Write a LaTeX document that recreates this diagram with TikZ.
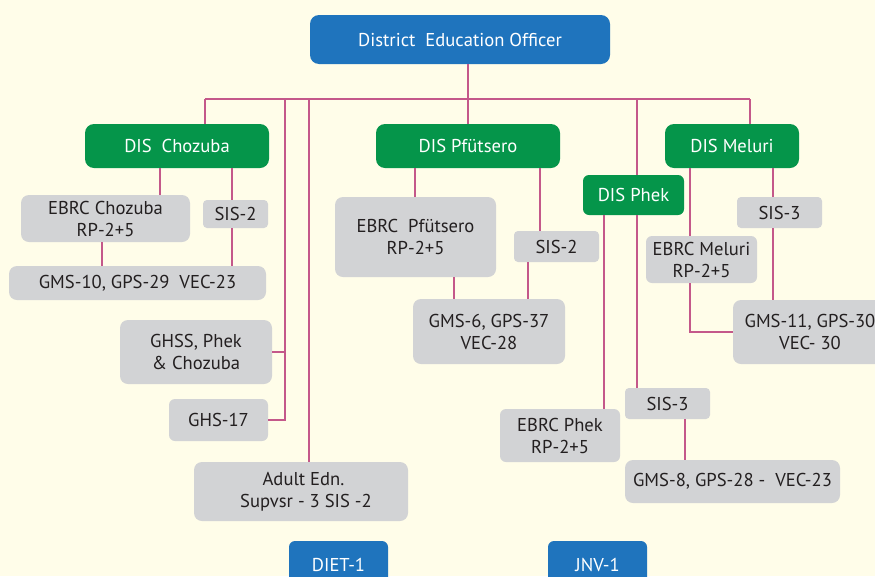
\documentclass[tikz,border=0pt]{standalone}
\usepackage{fontspec}
\setmainfont{PT Sans}
\definecolor{paper}{HTML}{FFFDE9}
\definecolor{deoblue}{HTML}{1F74BD}
\definecolor{disgreen}{HTML}{05954A}
\definecolor{unitgrey}{HTML}{D2D3D5}
\definecolor{linkpink}{HTML}{C4588A}
\definecolor{inkblack}{HTML}{231F20}
\begin{document}
\begin{tikzpicture}[x=1pt,y=-1pt,
    box/.style={rounded corners=6pt, inner sep=0pt, align=center,
      font=\fontsize{18.6}{22}\selectfont},
    head/.style={box, fill=deoblue, text=white},
    dis/.style={box, fill=disgreen, text=white, rounded corners=9pt},
    unit/.style={box, fill=unitgrey, text=inkblack},
    link/.style={linkpink, line width=1.3pt}]
    % Paper
    \fill[paper] (0,0) rectangle (875,576);
    \useasboundingbox (0,0) rectangle (875,576);
    \clip (0,0) rectangle (875,576);

    % Head office
    \node[head, minimum width=300pt, minimum height=49pt, rounded corners=9pt] (deo) at (460,39.5) {District~~Education Officer};

    % Bus
    \coordinate (b1) at (205,99);
    \coordinate (b2) at (285,99);
    \coordinate (b3) at (309,99);
    \coordinate (b4) at (468,99);
    \coordinate (b5) at (637,99);
    \coordinate (b6) at (750,99);

    % DIS offices
    \node[dis, minimum width=184pt, minimum height=44pt] (choz) at (177,146) {DIS~~Chozuba};
    \node[dis, minimum width=184pt, minimum height=44pt] (pf) at (468,146) {DIS Pfütsero};
    \node[dis, minimum width=134pt, minimum height=44pt] (mel) at (732,146) {DIS Meluri};
    \node[dis, minimum width=101pt, minimum height=40pt, rounded corners=6pt] (phek) at (633.5,195) {DIS Phek};

    % Chozuba
    \node[unit, minimum width=169pt, minimum height=47pt, rounded corners=8pt] (ebrcC) at (105.5,218.5) {EBRC Chozuba\\RP-2+5};
    \node[unit, minimum width=65pt, minimum height=28pt, rounded corners=4pt] (sisC) at (235.5,214) {SIS-2};
    \node[unit, minimum width=257pt, minimum height=34pt, rounded corners=8pt] (gmsC) at (137.5,283) {GMS-10, GPS-29~~VEC-23};

    % District level
    \node[unit, minimum width=152pt, minimum height=64pt, rounded corners=8pt] (ghss) at (196,352) {GHSS, Phek\\\& Chozuba};
    \node[unit, minimum width=99pt, minimum height=42pt] (ghs) at (218.5,420) {GHS-17};
    \node[unit, minimum width=214pt, minimum height=59pt, rounded corners=8pt] (adult) at (301,491.5) {~Adult Edn.\\~~Supvsr - 3 SIS -2};
    \node[head, minimum width=99pt, minimum height=48pt] (diet) at (338.5,565) {DIET-1};
    \node[head, minimum width=99pt, minimum height=48pt] (jnv) at (597.5,565) {JNV-1};

    % Pfutsero
    \node[unit, minimum width=161pt, minimum height=80pt, rounded corners=8pt] (ebrcP) at (415.5,237) {EBRC~~Pfütsero\\RP-2+5};
    \node[unit, minimum width=85pt, minimum height=31pt, rounded corners=4pt] (sisP) at (556.5,246.5) {SIS-2};
    \node[unit, minimum width=152pt, minimum height=65pt, rounded corners=8pt] (gmsP) at (489,331.5) {GMS-6, GPS-37\\VEC-28};

    % Meluri
    \node[unit, minimum width=85pt, minimum height=31pt, rounded corners=4pt] (sisM) at (779.5,212.5) {SIS-3};
    \node[unit, minimum width=111pt, minimum height=47pt] (ebrcM) at (701.5,259.5) {EBRC Meluri\\RP-2+5};
    \node[unit, minimum width=154pt, minimum height=64pt, rounded corners=8pt] (gmsM) at (810,332) {GMS-11, GPS-30\\VEC- 30};

    % Phek
    \node[unit, minimum width=120pt, minimum height=53pt] (ebrcPh) at (560,435.5) {EBRC Phek\\RP-2+5};
    \node[unit, minimum width=85pt, minimum height=31pt, rounded corners=4pt] (sisPh) at (667.5,403.5) {SIS-3};
    \node[unit, minimum width=215pt, minimum height=43pt, rounded corners=8pt] (gmsPh) at (732.5,481.5) {GMS-8, GPS-28 -~~VEC-23};

    % Links from the head office
    \draw[link] (deo.south -| b4) -- (b4);
    \draw[link] (b1) -- (b6);
    \draw[link] (b1) -- (b1 |- choz.north);
    \draw[link] (b4) -- (pf.north);
    \draw[link] (b5) -- (b5 |- phek.north);
    \draw[link] (b6) -- (b6 |- mel.north);
    \draw[link] (b2) |- (ghs.east);
    \draw[link] (ghss.east) -- (ghss.east -| b2);
    \draw[link] (b3) -- (b3 |- adult.north);

    % Links below Chozuba
    \draw[link] (choz.south -| 160,0) -- (ebrcC.north -| 160,0);
    \draw[link] (choz.south -| 232,0) -- (sisC.north -| 232,0);
    \draw[link] (sisC.south -| 232,0) -- (gmsC.north -| 232,0);
    \draw[link] (ebrcC.south -| 102,0) -- (gmsC.north -| 102,0);

    % Links below Pfutsero
    \draw[link] (pf.south -| 415,0) -- (ebrcP.north -| 415,0);
    \draw[link] (pf.south -| 540,0) -- (sisP.north -| 540,0);
    \draw[link] (ebrcP.south -| 454,0) -- (gmsP.north -| 454,0);
    \draw[link] (sisP.south -| 528,0) -- (gmsP.north -| 528,0);

    % Links below Meluri
    \draw[link] (mel.south -| 690,0) -- (ebrcM.north -| 690,0);
    \draw[link] (ebrcM.south -| 690,0) |- (gmsM.west);
    \draw[link] (mel.south -| 773,0) -- (sisM.north -| 773,0);
    \draw[link] (sisM.south -| 773,0) -- (gmsM.north -| 773,0);

    % Links below Phek
    \draw[link] (phek.south -| b5) -- (b5 |- sisPh.north);
    \draw[link] (phek.south -| 604,0) -- (ebrcPh.north -| 604,0);
    \draw[link] (sisPh.south -| 685,0) -- (gmsPh.north -| 685,0);
\end{tikzpicture}
\end{document}
